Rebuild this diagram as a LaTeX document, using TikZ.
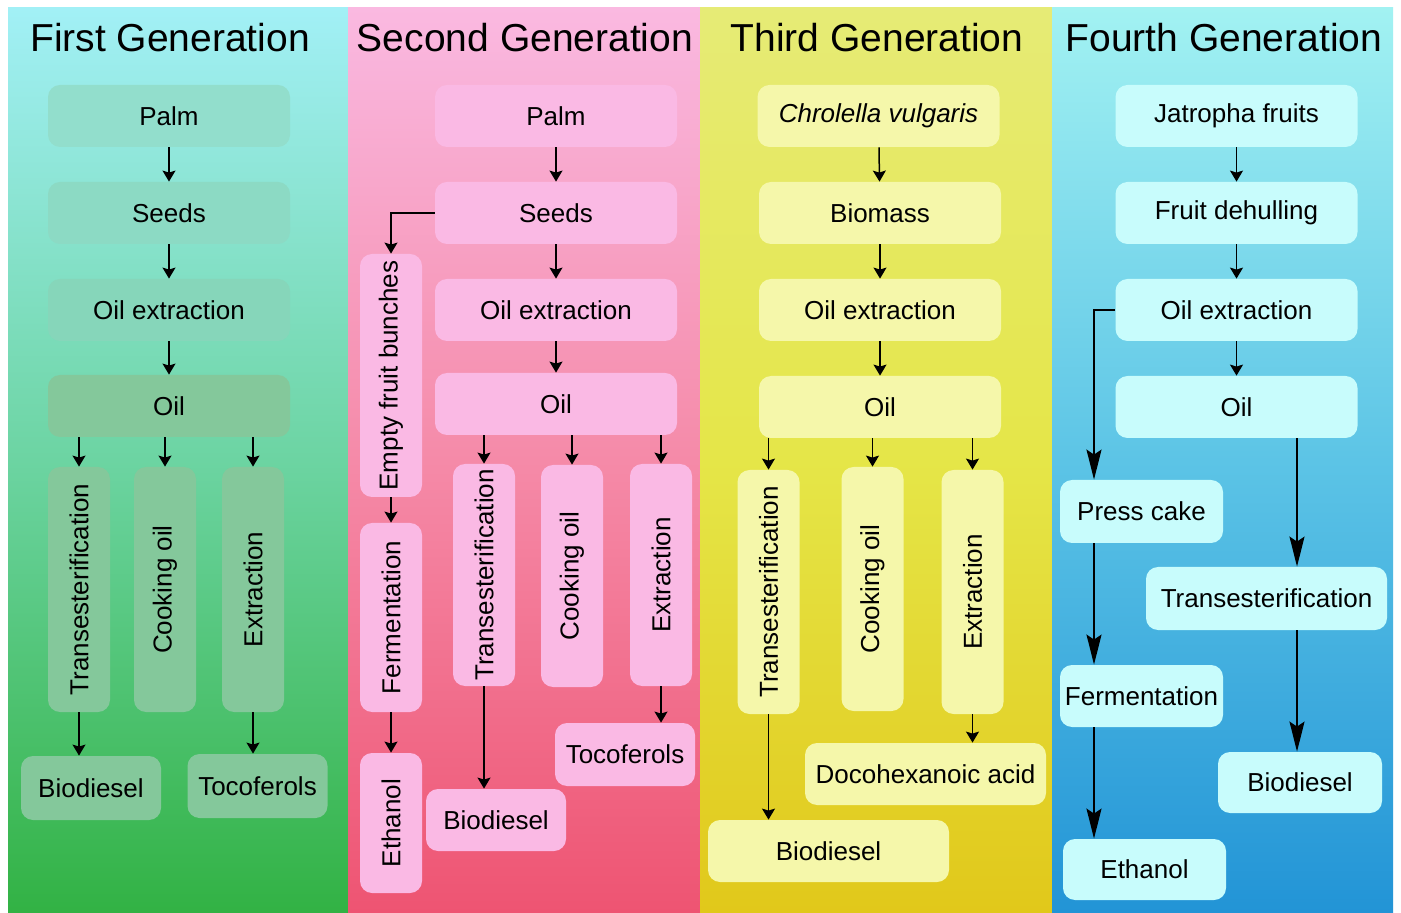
\documentclass[tikz,border=0pt]{standalone}
\usepackage{fontspec}
\setmainfont{Liberation Sans}
\usetikzlibrary{arrows.meta}
\definecolor{firsttop}{RGB}{162,240,246}
\definecolor{firstmid}{RGB}{108,212,162}
\definecolor{firstbot}{RGB}{50,178,68}
\definecolor{secondtop}{RGB}{250,185,225}
\definecolor{secondmid}{RGB}{245,138,168}
\definecolor{secondbot}{RGB}{238,84,114}
\definecolor{thirdtop}{RGB}{230,235,118}
\definecolor{thirdmid}{RGB}{229,230,72}
\definecolor{thirdbot}{RGB}{225,200,26}
\definecolor{fourthtop}{RGB}{162,242,242}
\definecolor{fourthmid}{RGB}{92,196,230}
\definecolor{fourthbot}{RGB}{34,148,214}
\definecolor{greenA}{RGB}{146,222,204}
\definecolor{greenB}{RGB}{140,218,196}
\definecolor{greenC}{RGB}{134,214,186}
\definecolor{greenD}{RGB}{132,200,155}
\definecolor{pinkbox}{RGB}{250,185,228}
\definecolor{yellowbox}{RGB}{245,247,170}
\definecolor{cyanbox}{RGB}{200,252,252}

\begin{document}
\begin{tikzpicture}[x=0.5pt,y=-0.5pt,
    box/.style={rounded corners=6pt, minimum width=121pt, minimum height=31pt,
        inner sep=0pt, font=\fontsize{13}{15}\selectfont},
    upbox/.style={box, rotate=90, minimum width=122pt},
    smallbox/.style={box, minimum width=70pt, minimum height=32pt},
    gentitle/.style={font=\fontsize{19.5}{22}\selectfont},
    flow/.style={-{Stealth[length=5.5pt,width=6.5pt,inset=1pt]}, line width=0.75pt},
    bigflow/.style={-{Stealth[length=15pt,width=7.5pt,inset=2.5pt]}, line width=1pt}]

    % Page and the four generation columns
    \fill[white] (0,0) rectangle (1401,913);
    \useasboundingbox (0,0) rectangle (1401,913);
    \shade[top color=firsttop, bottom color=firstbot, middle color=firstmid] (8,8) rectangle (348,913);
    \shade[top color=secondtop, bottom color=secondbot, middle color=secondmid] (348,8) rectangle (700,913);
    \shade[top color=thirdtop, bottom color=thirdbot, middle color=thirdmid] (700,8) rectangle (1052,913);
    \shade[top color=fourthtop, bottom color=fourthbot, middle color=fourthmid] (1052,8) rectangle (1393,913);

    % Titles
    \node[gentitle] (titleA) at (170,38) {First Generation};
    \node[gentitle] (titleB) at (525,38) {Second Generation};
    \node[gentitle] (titleC) at (877,38) {Third Generation};
    \node[gentitle] (titleD) at (1224,38) {Fourth Generation};

    % First generation
    \node[box, fill=greenA] (palmA) at (169,116) {Palm};
    \node[box, fill=greenB] (seedsA) at (169,213) {Seeds};
    \node[box, fill=greenC] (oilexA) at (169,310) {Oil extraction};
    \node[box, fill=greenD] (oilA) at (169,406) {Oil};
    \node[upbox, fill=greenD, minimum width=122.5pt] (transA) at (79,589.5) {Transesterification};
    \node[upbox, fill=greenD, minimum width=122.5pt] (cookA) at (165,589.5) {Cooking oil};
    \node[upbox, fill=greenD, minimum width=122.5pt] (extrA) at (253,589.5) {Extraction};
    \node[smallbox, fill=greenD] (bioA) at (91,788) {Biodiesel};
    \node[smallbox, fill=greenD] (tocoA) at (257.5,786) {Tocoferols};

    \draw[flow] (palmA) -- (seedsA);
    \draw[flow] (seedsA) -- (oilexA);
    \draw[flow] (oilexA) -- (oilA);
    \draw[flow] (oilA.south -| transA) -- (transA.east);
    \draw[flow] (oilA.south -| cookA) -- (cookA.east);
    \draw[flow] (oilA.south -| extrA) -- (extrA.east);
    \draw[flow] (transA.west) -- (transA.west |- bioA.north);
    \draw[flow] (extrA.west) -- (extrA.west |- tocoA.north);

    % Second generation
    \node[box, fill=pinkbox] (palmB) at (556,116) {Palm};
    \node[box, fill=pinkbox] (seedsB) at (556,213) {Seeds};
    \node[box, fill=pinkbox] (oilexB) at (556,310) {Oil extraction};
    \node[box, fill=pinkbox] (oilB) at (556,404) {Oil};
    \node[upbox, fill=pinkbox, minimum width=121.5pt] (efbB) at (391,375.5) {Empty fruit bunches};
    \node[upbox, fill=pinkbox, minimum width=94.5pt] (fermB) at (391,617.5) {Fermentation};
    \node[upbox, fill=pinkbox, minimum width=70pt] (ethB) at (391,823) {Ethanol};
    \node[upbox, fill=pinkbox, minimum width=111pt] (transB) at (484,575) {Transesterification};
    \node[upbox, fill=pinkbox, minimum width=111pt] (cookB) at (572,576) {Cooking oil};
    \node[upbox, fill=pinkbox, minimum width=111pt] (extrB) at (661,575) {Extraction};
    \node[smallbox, fill=pinkbox, minimum height=31pt] (bioB) at (496,820) {Biodiesel};
    \node[smallbox, fill=pinkbox, minimum height=31.5pt] (tocoB) at (625,754.5) {Tocoferols};

    \draw[flow] (palmB) -- (seedsB);
    \draw[flow] (seedsB) -- (oilexB);
    \draw[flow] (oilexB) -- (oilB);
    \draw[flow] (seedsB.west) -| (efbB.east);
    \draw[flow] (efbB.west) -- (fermB.east);
    \draw[flow] (fermB.west) -- (ethB.east);
    \draw[flow] (oilB.south -| transB) -- (transB.east);
    \draw[flow] (oilB.south -| cookB) -- (cookB.east);
    \draw[flow] (oilB.south -| extrB) -- (extrB.east);
    \draw[flow] (transB.west) -- (transB.west |- bioB.north);
    \draw[flow] (extrB.west) -- (extrB.west |- tocoB.north);

    % Third generation
    \node[box, fill=yellowbox, font=\fontsize{13}{15}\selectfont\itshape] (algaC) at (878.5,116) {Chrolella vulgaris};
    \node[box, fill=yellowbox] (massC) at (880,213) {Biomass};
    \node[box, fill=yellowbox] (oilexC) at (880,310) {Oil extraction};
    \node[box, fill=yellowbox] (oilC) at (880,407) {Oil};
    \node[upbox, fill=yellowbox] (transC) at (768.5,592) {Transesterification};
    \node[upbox, fill=yellowbox] (cookC) at (872.5,589) {Cooking oil};
    \node[upbox, fill=yellowbox] (extrC) at (972.5,592) {Extraction};
    \node[box, fill=yellowbox, minimum width=120.5pt] (dieselC) at (828.5,851) {Biodiesel};
    \node[box, fill=yellowbox, minimum width=120.5pt] (dhaC) at (925.5,774) {Docohexanoic acid};

    \draw[flow] (algaC) -- (massC);
    \draw[flow] (massC) -- (oilexC);
    \draw[flow] (oilexC) -- (oilC);
    \draw[flow] (oilC.south -| transC) -- (transC.east);
    \draw[flow] (oilC.south -| cookC) -- (cookC.east);
    \draw[flow] (oilC.south -| extrC) -- (extrC.east);
    \draw[flow] (transC.west) -- (transC.west |- dieselC.north);
    \draw[flow] (extrC.west) -- (extrC.west |- dhaC.north);

    % Fourth generation
    \coordinate (leftD) at (1094,0);
    \coordinate (rightD) at (1297,0);
    \node[box, fill=cyanbox] (jatD) at (1236.5,116) {Jatropha fruits};
    \node[box, fill=cyanbox] (dehD) at (1236.5,213) {Fruit dehulling};
    \node[box, fill=cyanbox] (oilexD) at (1236.5,310) {Oil extraction};
    \node[box, fill=cyanbox] (oilD) at (1236.5,407) {Oil};
    \node[box, fill=cyanbox, minimum width=81.5pt, minimum height=31.5pt] (pressD) at (1141.5,511.5) {Press cake};
    \node[box, fill=cyanbox, minimum width=81.5pt] (fermD) at (1141.5,696) {Fermentation};
    \node[box, fill=cyanbox, minimum width=81.5pt, minimum height=30.5pt] (ethD) at (1144.5,869.5) {Ethanol};
    \node[box, fill=cyanbox, minimum width=120.5pt, minimum height=31.5pt] (transD) at (1266.5,598.5) {Transesterification};
    \node[box, fill=cyanbox, minimum width=82pt, minimum height=30.5pt] (dieselD) at (1300,782.5) {Biodiesel};

    \draw[flow] (jatD) -- (dehD);
    \draw[flow] (dehD) -- (oilexD);
    \draw[flow] (oilexD) -- (oilD);
    \draw[bigflow] (oilexD.west) -| (pressD.north -| leftD);
    \draw[bigflow] (pressD.south -| leftD) -- (fermD.north -| leftD);
    \draw[bigflow] (fermD.south -| leftD) -- (ethD.north -| leftD);
    \draw[bigflow] (oilD.south -| rightD) -- (transD.north -| rightD);
    \draw[bigflow] (transD.south -| rightD) -- (dieselD.north -| rightD);
\end{tikzpicture}
\end{document}
